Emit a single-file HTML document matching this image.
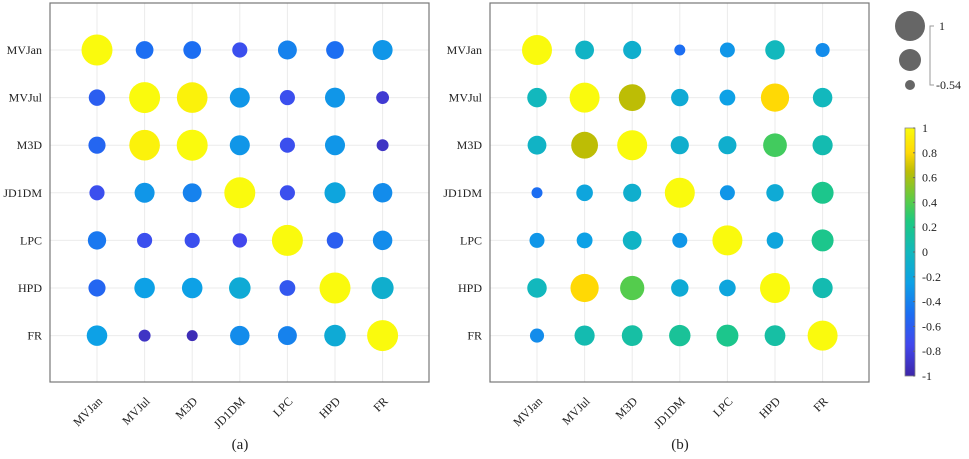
<!DOCTYPE html>
<html><head><meta charset="utf-8"><style>
body{margin:0;background:#fff;}
svg{display:block;font-family:"Liberation Serif",serif;}
</style></head><body>
<svg id="chart" width="969" height="459" xmlns="http://www.w3.org/2000/svg"></svg>
<script>
const labels = ["MVJan","MVJul","M3D","JD1DM","LPC","HPD","FR"];
const valuesA = [
 [1,-0.5,-0.5,-0.7,-0.4,-0.5,-0.3],
 [-0.6,1,0.95,-0.3,-0.7,-0.3,-0.85],
 [-0.55,0.95,1,-0.3,-0.7,-0.3,-0.9],
 [-0.7,-0.3,-0.4,1,-0.7,-0.2,-0.35],
 [-0.45,-0.7,-0.7,-0.75,1,-0.6,-0.35],
 [-0.55,-0.25,-0.25,-0.15,-0.65,1,-0.1],
 [-0.25,-0.9,-0.95,-0.35,-0.4,-0.15,1]
];
const valuesB = [
 [1,-0.05,-0.1,-0.5,-0.3,0,-0.35],
 [0,1,0.65,-0.15,-0.25,0.8,0],
 [-0.05,0.65,1,-0.1,-0.1,0.35,0.05],
 [-0.5,-0.2,-0.1,1,-0.3,-0.15,0.2],
 [-0.3,-0.25,-0.05,-0.3,1,-0.2,0.2],
 [0,0.8,0.4,-0.15,-0.2,1,0.05],
 [-0.35,0.05,0.1,0.15,0.2,0.1,1]
];
const cbTicks = [1,0.8,0.6,0.4,0.2,0,-0.2,-0.4,-0.6,-0.8,-1];
const panelLabels = ["(a)","(b)"];

const NS="http://www.w3.org/2000/svg";
const svg=document.getElementById('chart');
function mk(tag,attrs,parent){const e=document.createElementNS(NS,tag);for(const k in attrs)e.setAttribute(k,attrs[k]);(parent||svg).appendChild(e);return e;}
const cstops=[[-1,[0.24,0.15,0.66]],[-0.75,[0.26,0.28,0.93]],[-0.5,[0.11,0.43,0.95]],[-0.25,[0.05,0.63,0.9]],[0,[0.07,0.72,0.74]],[0.25,[0.12,0.79,0.5]],[0.4,[0.33,0.8,0.3]],[0.65,[0.74,0.74,0.02]],[0.8,[1,0.85,0.02]],[1,[0.98,0.98,0.05]]];
function parula(v){v=Math.max(-1,Math.min(1,v));let i=0;while(i<cstops.length-2&&v>cstops[i+1][0])i++;const a=cstops[i],b=cstops[i+1],f=(v-a[0])/(b[0]-a[0]);const c=a[1].map((x,k)=>Math.round(255*(x+(b[1][k]-x)*f)));return `rgb(${c[0]},${c[1]},${c[2]})`;}

const panels=[{x0:50,vals:valuesA,rad:v=>Math.sqrt(25+107.5*(v+1)),cx:240},{x0:490,vals:valuesB,rad:v=>Math.sqrt(25+130*(Math.max(v,-0.54)+0.54)),cx:680}];
const axTop=3,axBot=382,axW=379,step=47.6;
panels.forEach((p,pi)=>{
  const g=mk('g',{});
  
  
  const colX=j=>p.x0+47+j*step, rowY=i=>50+i*step;
  labels.forEach((l,j)=>{
    const gl=mk('line',{x1:colX(j),x2:colX(j),y1:axTop,y2:axBot,stroke:'#ebebeb','stroke-width':1},g);
    
    
    const gh=mk('line',{x1:p.x0,x2:p.x0+axW,y1:rowY(j),y2:rowY(j),stroke:'#ebebeb','stroke-width':1},g);
    
    
    const yl=mk('text',{x:p.x0-8,y:rowY(j)+4,'text-anchor':'end','font-size':12,fill:'#222'},g);yl.textContent=l;
    
    
    const xl=mk('text',{x:colX(j)+6,y:axBot+20,'text-anchor':'end','font-size':12,fill:'#222',transform:`rotate(-45 ${colX(j)+6} ${axBot+20})`},g);xl.textContent=l;
    
    
  });
  p.vals.forEach((row,i)=>row.forEach((v,j)=>{
    const c=mk('circle',{cx:colX(j),cy:rowY(i),r:p.rad(v),fill:parula(v)},g);
    
    
  }));
  const box=mk('rect',{x:p.x0,y:axTop,width:axW,height:axBot-axTop,fill:'none',stroke:'#777','stroke-width':1.2},g);
  
  
  const pl=mk('text',{x:p.cx,y:449,'text-anchor':'middle','font-size':15,fill:'#222'},g);pl.textContent=panelLabels[pi];
  
  
});
const sl=mk('g',{});


mk('circle',{cx:910,cy:26,r:15,fill:'#666'},sl);
mk('circle',{cx:910,cy:60,r:11,fill:'#666'},sl);
mk('circle',{cx:910,cy:85,r:5,fill:'#666'},sl);
mk('path',{d:'M934,26 H930 V85 H934',fill:'none',stroke:'#999','stroke-width':1},sl);
let t=mk('text',{x:939,y:30,'font-size':12,fill:'#222'},sl);t.textContent='1';
t=mk('text',{x:936,y:89,'font-size':12,fill:'#222'},sl);t.textContent='-0.54';
const cb=mk('g',{});


const defs=mk('defs',{});const lg=mk('linearGradient',{id:'pg',x1:0,y1:1,x2:0,y2:0},defs);
for(let k=0;k<=40;k++){mk('stop',{offset:k/40,'stop-color':parula(-1+k/20)},lg);}
const cbTop=128,cbBot=376;
mk('rect',{x:905,y:cbTop,width:10,height:cbBot-cbTop,fill:'url(#pg)',stroke:'#888','stroke-width':0.8},cb);
const cbY=v=>cbBot-(v+1)/2*(cbBot-cbTop);
cbTicks.forEach(v=>{
  mk('line',{x1:913,x2:915,y1:cbY(v),y2:cbY(v),stroke:'#666'},cb);
  const tx=mk('text',{x:922,y:cbY(v)+4,'font-size':12,fill:'#222'},cb);tx.textContent=String(v);
  
  
});
</script>
</body></html>
